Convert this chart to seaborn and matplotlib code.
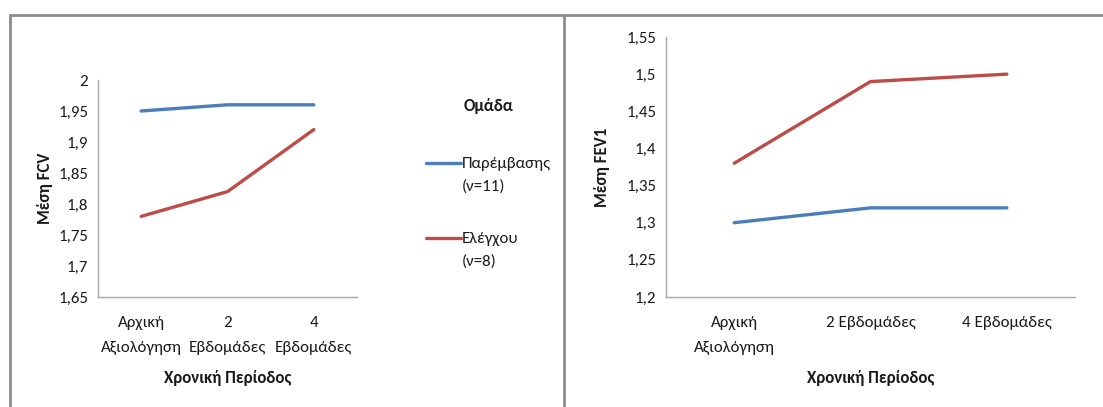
import matplotlib
matplotlib.use("Agg")
import matplotlib.pyplot as plt
from matplotlib.ticker import FuncFormatter, MultipleLocator
from matplotlib.lines import Line2D
import seaborn as sns
import pandas as pd

# Measurement periods (x categories) for each panel
periods_fvc = ["Αρχική\nΑξιολόγηση", "2\nΕβδομάδες", "4\nΕβδομάδες"]
periods_fev1 = ["Αρχική\nΑξιολόγηση", "2 Εβδομάδες", "4 Εβδομάδες"]
groups = ["Παρέμβασης\n(ν=11)", "Ελέγχου\n(ν=8)"]

# Mean FVC per group and period
fvc_intervention = [1.95, 1.96, 1.96]
fvc_control = [1.78, 1.82, 1.92]

# Mean FEV1 per group and period
fev1_intervention = [1.30, 1.32, 1.32]
fev1_control = [1.38, 1.49, 1.50]

BLUE = "#4a7ebb"
RED = "#be4b48"
AXIS_GRAY = "#a6a6a6"
FRAME_GRAY = "#8c8c8c"
TEXT = "#1a1a1a"
FS = 12.2


def long_frame(periods, intervention, control):
    rows = []
    for grp, vals in zip(groups, [intervention, control]):
        for p, v in zip(periods, vals):
            rows.append({"period": p, "value": v, "group": grp})
    return pd.DataFrame(rows)


def comma_fmt(v, _pos):
    s = f"{round(v, 4):.2f}".rstrip("0").rstrip(".")
    return s.replace(".", ",")


sns.set_theme(style="white")
plt.rcParams["font.family"] = ["Carlito", "DejaVu Sans"]
plt.rcParams["font.size"] = FS

W, H = 1103, 407
fig = plt.figure(figsize=(W / 100, H / 100), dpi=100)
fig.patch.set_facecolor("white")


def px_axes(x0, y0, x1, y1):
    return fig.add_axes([x0 / W, 1 - y1 / H, (x1 - x0) / W, (y1 - y0) / H])


ax1 = px_axes(98, 80, 357, 297)
ax2 = px_axes(666, 37, 1075, 297)

df_fvc = long_frame(periods_fvc, fvc_intervention, fvc_control)
df_fev1 = long_frame(periods_fev1, fev1_intervention, fev1_control)

sns.lineplot(data=df_fvc, x="period", y="value", hue="group", hue_order=groups,
             palette=[BLUE, RED], linewidth=2.4, sort=False, ax=ax1, legend=True)
sns.lineplot(data=df_fev1, x="period", y="value", hue="group", hue_order=groups,
             palette=[BLUE, RED], linewidth=2.4, sort=False, ax=ax2, legend=False)

for ax, (lo, hi), ylab, xlab_y, ylab_x in [
    (ax1, (1.65, 2.0), "Μέση FCV", -0.373, -0.205),
    (ax2, (1.2, 1.55), "Μέση FEV1", -0.312, -0.156),
]:
    ax.set_ylim(lo, hi)
    ax.set_xlim(-0.5, 2.5)
    ax.yaxis.set_major_locator(MultipleLocator(0.05))
    ax.yaxis.set_major_formatter(FuncFormatter(comma_fmt))
    for side in ["top", "right"]:
        ax.spines[side].set_visible(False)
    for side in ["left", "bottom"]:
        ax.spines[side].set_color(AXIS_GRAY)
        ax.spines[side].set_linewidth(1.0)
    ax.tick_params(axis="y", direction="out", length=4, width=1, color=AXIS_GRAY,
                   labelcolor=TEXT, labelsize=FS, pad=3)
    ax.tick_params(axis="x", length=0, labelcolor=TEXT, labelsize=FS, pad=14)
    for lbl in ax.get_xticklabels():
        lbl.set_multialignment("center")
        lbl.set_linespacing(2.0)
    ax.set_ylabel(ylab, fontsize=FS, fontweight="bold", color=TEXT)
    ax.set_xlabel("Χρονική Περίοδος", fontsize=FS, fontweight="bold", color=TEXT)
    ax.yaxis.set_label_coords(ylab_x, 0.5)
    ax.xaxis.set_label_coords(0.5, xlab_y)
    ax.xaxis.label.set_va("center")
    ax.yaxis.label.set_va("center")
    ax.set_facecolor("white")

# Group legend placed to the right of the FVC panel
handles, labels = ax1.get_legend_handles_labels()
ax1.get_legend().remove()
leg = fig.legend(handles, labels, title="Ομάδα", loc="upper left",
                 bbox_to_anchor=(411 / W, 1 - 83 / H), frameon=False,
                 fontsize=FS, title_fontproperties={"weight": "bold", "size": FS},
                 handlelength=2.05, handletextpad=0.06, labelspacing=2.25)
for t in leg.get_texts():
    t.set_color(TEXT)
    t.set_linespacing(1.75)
leg.get_title().set_color(TEXT)
leg._legend_box.sep = 31
for ln in leg.get_lines():
    ln.set_linewidth(2.4)
    # align each handle with the first line of its two-line label
    ln.set_ydata([y + 0.7 * FS for y in ln.get_ydata()])

# Panel frames
frame_kw = dict(color=FRAME_GRAY, linewidth=2, transform=fig.transFigure)
fig.add_artist(Line2D([9.5 / W, 1], [1 - 14.5 / H] * 2, **frame_kw))
fig.add_artist(Line2D([9.5 / W] * 2, [0, 1 - 14.5 / H], **frame_kw))
fig.add_artist(Line2D([563.5 / W] * 2, [0, 1 - 14.5 / H], **frame_kw))

fig.savefig("out.png", dpi=100, facecolor="white")
